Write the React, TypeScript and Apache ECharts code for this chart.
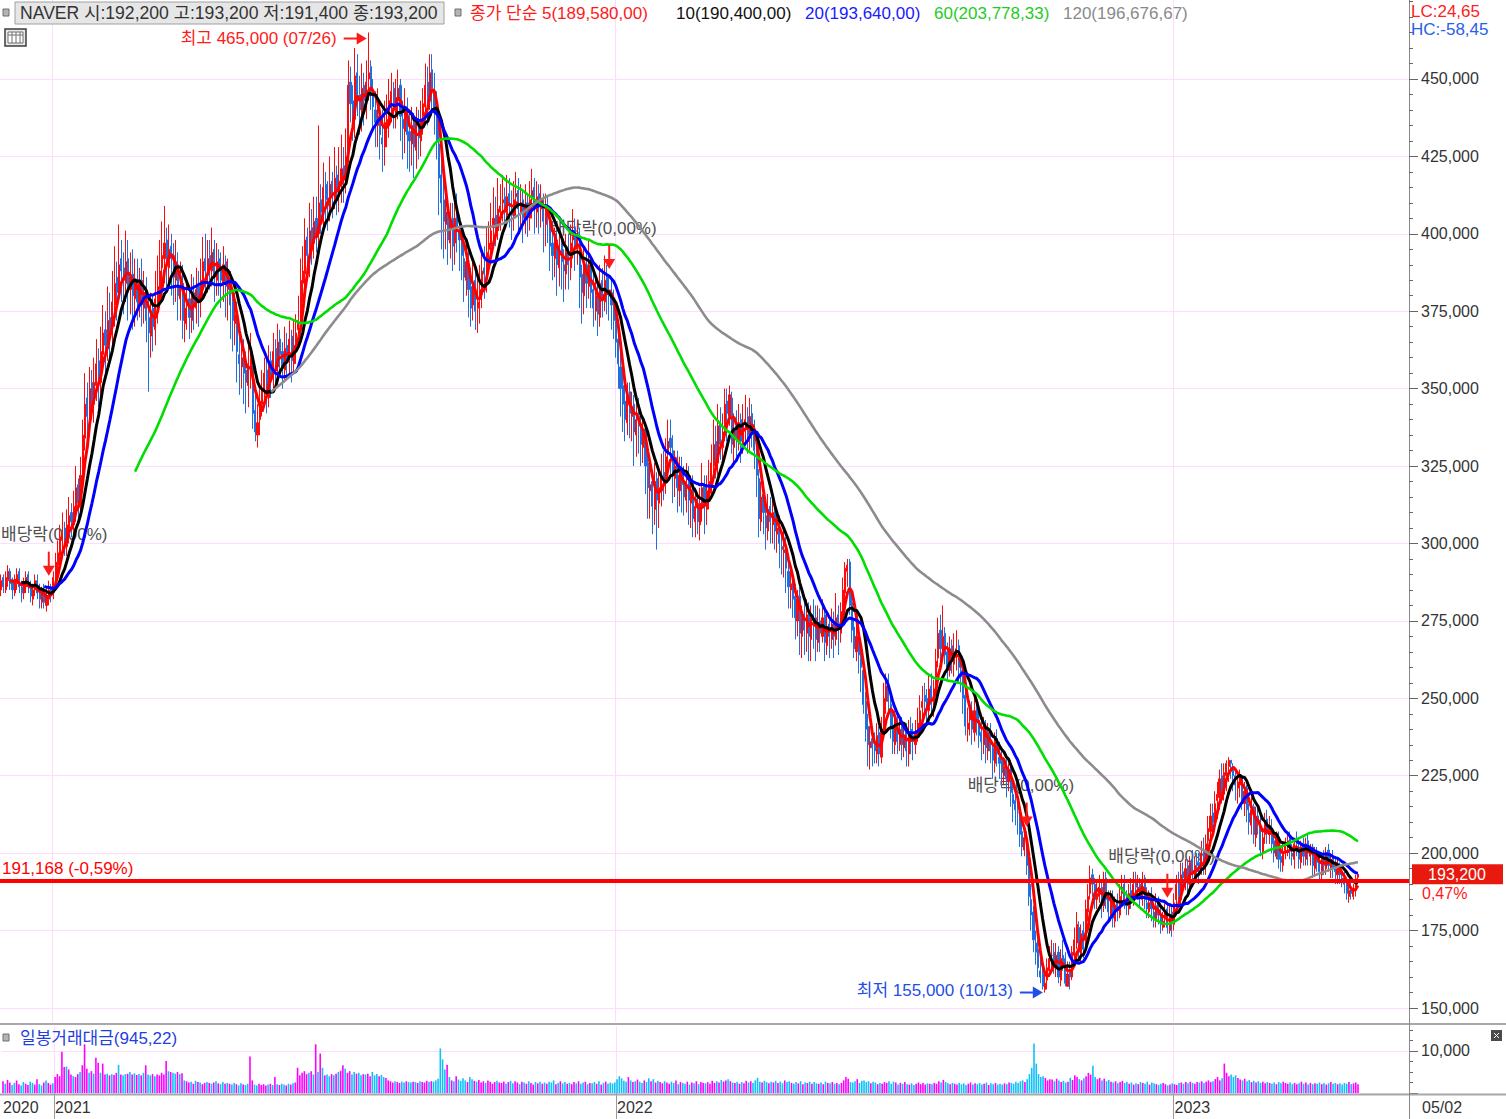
import React, { useEffect, useRef } from "react";
import * as echarts from "echarts";

// ---------- data (prices in thousand won) ----------
const CLOSE = [
288,286,289,291,287,285,288,290,286,284,
287,289,286,283,285,288,284,282,284,281,
283,285,284,289,294,297,302,303,300,306,
309,307,312,318,313,322,335,345,341,350,
346,352,358,353,362,368,364,372,369,378,
384,381,390,388,385,391,383,386,380,384,
378,384,377,381,372,368,375,370,379,383,
388,393,397,390,395,392,386,389,380,383,
372,376,378,373,380,377,382,379,385,391,
388,392,389,394,386,391,388,385,390,383,
384,377,372,374,362,358,360,355,352,358,
360,342,336,339,346,350,355,348,358,354,
362,358,365,361,357,363,360,366,359,364,
368,372,385,388,398,393,401,398,404,399,
410,407,415,411,409,416,412,418,414,417,
421,419,425,448,442,438,451,444,440,447,
443,449,452,445,441,436,438,432,429,436,
437,443,446,440,444,447,438,434,440,432,
430,435,428,436,431,437,442,448,444,452,
447,439,430,418,410,404,407,398,404,396,
405,402,398,393,386,391,382,376,384,375,
378,382,388,387,394,397,401,405,402,408,
409,411,407,412,409,406,411,413,408,410,
405,409,406,411,414,408,412,409,410,404,
407,405,396,393,397,390,396,391,388,394,
390,397,401,396,399,386,381,389,384,390,
381,376,380,374,384,379,385,381,380,377,
372,365,358,350,345,340,348,342,344,336,
340,338,332,336,325,318,319,312,320,314,
318,322,321,328,333,331,322,325,318,322,
319,315,320,314,317,308,312,307,313,318,
312,317,320,326,332,327,338,332,336,345,
342,348,332,337,334,339,333,339,340,335,
341,337,330,322,308,315,310,305,311,307,
310,304,305,300,298,298,292,286,287,282,
276,282,271,276,272,277,270,276,275,269,
274,271,276,268,273,270,274,270,276,272,
278,285,292,293,280,272,266,270,264,260,
248,240,235,236,234,233,238,232,240,250,
254,249,240,236,241,236,240,235,238,233,
239,237,236,239,242,246,249,249,247,253,
248,253,262,271,266,270,264,260,266,262,
265,266,260,257,250,241,242,245,240,246,
242,238,236,240,234,239,233,230,236,232,
229,226,228,224,227,220,216,214,213,206,
202,205,196,186,180,172,168,163,160,157,
158,163,166,167,164,167,160,166,165,158,
161,160,168,172,177,168,174,169,182,186,
192,190,185,187,189,183,191,185,181,184,
179,183,181,186,189,185,183,187,185,190,
189,189,186,191,185,182,184,182,179,183,
180,177,178,181,176,180,178,184,190,186,
193,192,195,190,197,193,196,196,195,200,
197,203,208,212,210,216,219,224,220,226,
229,230,229,225,222,223,224,217,220,214,
210,214,206,212,211,201,205,210,207,209,
203,200,205,198,197,200,203,204,201,199,
203,203,198,202,199,203,200,201,196,199,
197,194,198,196,200,196,198,195,194,195,
193,191,190,187,188,187,188,191.7,193.2
];

const OPEN = [
285,289,285,288,291,288,284,287,291,286,
284,286,290,286,282,285,288,285,281,285,
280,282,286,285,289,293,296,301,305,299,
305,310,306,311,319,312,323,334,347,340,
352,345,351,359,352,361,369,363,373,368,
377,386,380,392,389,384,392,382,387,379,
385,377,385,376,382,373,367,376,369,378,
382,389,392,398,389,396,393,385,390,379,
384,371,377,379,372,381,376,383,378,384,
392,387,393,388,395,385,392,389,384,391,
382,385,378,371,375,361,357,361,356,351,
357,359,343,335,340,345,349,356,347,359,
355,363,357,366,362,356,364,359,367,358,
363,369,371,384,387,399,392,402,397,405,
400,411,406,416,410,408,417,411,419,413,
416,422,418,427,449,443,437,452,445,439,
448,442,450,454,446,440,435,439,431,428,
435,436,442,447,439,443,448,437,433,441,
433,429,436,427,437,430,438,441,449,443,
453,446,440,429,419,411,403,408,397,405,
397,406,401,399,392,385,390,383,377,385,
376,379,381,389,386,395,396,402,406,401,
407,410,412,406,413,408,405,412,414,407,
411,404,410,405,412,415,407,413,408,411,
403,408,404,397,392,398,389,397,390,387,
395,389,398,402,395,399,387,380,390,383,
389,382,375,381,373,385,378,386,380,381,
378,372,366,357,351,346,339,349,341,345,
335,341,337,331,337,326,317,320,311,321,
313,317,323,320,329,334,330,321,326,317,
323,320,314,321,313,318,307,313,306,312,
319,311,316,319,325,333,326,339,331,337,
346,341,347,331,338,333,340,332,339,341,
334,342,336,331,321,307,316,309,304,312,
306,311,303,306,299,297,299,291,285,288,
283,275,283,270,277,271,278,269,277,276,
268,275,270,277,267,274,269,275,269,277,
271,277,284,291,294,281,273,265,271,263,
259,249,241,234,237,235,232,239,231,241,
249,255,248,241,235,242,235,241,234,239,
232,240,238,235,240,241,247,251,250,246,
254,247,254,263,272,265,271,265,259,267,
261,264,267,259,258,251,240,243,246,239,
247,243,239,235,241,233,240,234,229,237,
231,230,225,229,223,228,219,217,213,214,
207,201,204,196,185,181,171,169,162,161,
156,159,162,167,168,163,168,159,167,166,
157,162,160,167,171,176,167,175,170,181,
187,193,190,185,186,189,183,192,186,180,
185,178,184,180,187,190,184,182,188,184,
191,188,190,185,192,184,181,185,181,178,
184,180,176,179,182,175,181,177,185,191,
185,194,191,196,189,198,192,197,197,194,
201,196,204,207,213,209,217,218,225,219,
225,228,230,228,225,221,222,225,216,221,
213,209,215,205,212,210,200,206,211,206,
208,204,199,205,199,196,201,202,205,200,
198,204,202,197,203,198,204,199,202,195,
200,198,193,199,195,201,195,199,196,193,
196,192,192,190,186,189,186,188,192.2
];

const HIGH = [
290,290,291,293,292,289,290,292,292,288,
289,291,291,288,287,290,290,287,286,287,
286,288,287,291,297,301,306,310,307,311,
315,313,317,325,321,328,340,355,352,357,
356,360,366,363,370,377,375,383,381,388,
396,391,403,398,394,401,398,394,395,392,
392,389,392,388,386,380,381,380,388,393,
398,404,409,402,403,400,397,398,394,391,
390,382,384,383,387,386,389,388,392,399,
400,398,398,402,398,397,395,394,396,393,
392,388,382,381,378,367,366,366,362,365,
368,362,348,345,351,356,360,360,364,362,
368,366,371,369,365,370,368,372,369,372,
374,380,392,396,405,402,410,408,412,412,
435,416,423,420,417,425,420,428,422,428,
432,428,434,456,454,448,460,458,451,455,
452,456,465,456,450,446,447,443,440,443,
445,450,452,449,450,453,450,443,447,444,
440,441,439,441,440,443,447,455,454,458,
458,452,446,436,428,419,415,412,410,410,
412,413,406,403,396,398,394,389,391,388,
386,390,395,396,402,404,410,415,412,418,
416,419,415,419,418,414,417,420,418,416,
414,416,413,417,421,418,417,416,416,413,
413,412,408,402,402,401,402,399,395,400,
400,403,408,405,404,402,390,396,394,398,
393,388,386,384,390,389,393,390,387,386,
382,378,369,362,356,352,352,352,349,348,
346,347,342,341,339,330,325,323,326,323,
324,329,330,334,340,340,335,330,330,328,
328,325,326,325,322,322,318,316,318,326,
322,322,327,332,340,338,345,344,342,350,
350,351,349,342,343,345,342,345,348,344,
347,345,340,335,324,320,320,314,316,315,
316,314,311,309,304,304,302,296,292,291,
287,285,286,280,281,282,281,280,282,280,
280,279,282,279,278,276,279,278,284,280,
281,289,294,295,295,284,276,274,273,266,
262,252,245,241,240,239,242,241,244,255,
258,258,251,245,246,245,244,244,242,242,
243,244,242,243,247,251,254,255,253,258,
258,256,266,276,277,280,273,268,270,269,
271,272,269,264,261,253,247,249,249,250,
250,247,243,244,243,242,242,236,239,240,
236,233,231,232,229,230,223,221,218,216,
211,208,207,199,190,183,175,172,166,164,
161,166,170,172,171,171,170,169,172,168,
165,165,170,176,181,178,177,178,185,190,
196,195,192,191,193,191,194,194,188,188,
188,186,187,190,193,193,188,190,192,194,
194,193,192,194,193,189,188,189,184,187,
186,183,181,185,184,183,183,187,193,194,
197,197,198,198,199,201,199,200,200,204,
205,206,212,216,216,220,223,227,229,229,
230,231,230,229,227,226,227,225,223,222,
216,218,216,215,216,212,208,213,214,212,
211,207,207,207,201,203,205,207,207,203,
205,207,205,204,205,205,206,203,203,202,
202,200,200,201,202,203,200,201,199,198,
197,195,194,192,190,191,190,193,193.2
];

const LOW = [
283,284,284,286,285,282,283,285,284,281,
282,284,284,281,280,283,282,279,279,279,
278,280,281,282,286,290,293,297,296,296,
300,302,303,307,308,308,318,330,335,336,
340,339,346,344,348,355,355,359,357,362,
370,372,378,378,374,378,372,374,369,370,
372,373,370,371,365,349,360,362,364,371,
376,381,384,382,383,380,377,378,372,372,
366,365,369,366,368,369,371,370,373,379,
380,381,382,383,378,380,380,376,378,373,
372,366,362,364,352,348,350,345,342,344,
350,337,333,331,335,341,344,342,344,347,
350,352,353,355,350,352,354,355,352,355,
358,364,368,378,382,387,386,390,392,394,
395,400,402,404,401,404,405,408,406,407,
410,410,413,423,436,430,431,438,432,433,
435,437,443,440,433,428,428,424,420,422,
428,431,436,434,434,437,430,424,426,421,
420,422,418,421,424,425,432,437,435,440,
438,432,424,406,395,392,395,390,392,388,
390,394,388,385,378,380,373,370,372,369,
368,371,376,379,381,388,390,396,396,398,
401,404,401,403,402,398,401,405,401,402,
397,400,399,401,405,400,402,400,402,394,
396,397,388,385,386,380,383,382,378,382,
382,385,392,388,390,376,371,374,376,379,
376,370,372,367,370,373,375,374,372,369,
366,360,350,341,336,333,335,334,333,325,
328,329,325,326,316,308,308,303,306,298,
305,312,314,316,323,322,313,315,310,312,
310,309,310,306,305,302,302,303,301,307,
303,306,311,316,322,321,322,327,327,333,
333,338,329,326,328,330,326,329,333,329,
330,331,324,315,302,304,303,298,301,300,
300,298,297,292,290,289,284,279,279,276,
269,270,264,263,264,265,262,262,266,262,
265,265,268,262,264,263,266,263,267,264,
268,275,281,286,277,268,263,262,258,252,
245,236,228,227,228,229,229,228,229,238,
245,245,237,232,232,232,233,230,231,228,
228,232,230,232,236,238,243,244,242,243,
244,244,251,260,262,262,261,256,257,258,
257,259,255,252,245,238,236,238,235,236,
238,234,230,232,229,230,229,224,226,228,
224,221,222,218,220,215,210,209,206,202,
199,199,193,183,175,168,164,160,158,156,
155,156,160,162,161,160,158,157,162,157,
157,156,159,165,169,165,165,166,168,178,
185,186,182,182,184,179,181,182,178,178,
176,176,178,179,184,182,180,180,182,183,
185,185,183,183,182,179,179,178,176,176,
177,174,175,176,174,174,173,175,183,183,
183,188,188,187,187,190,190,192,190,193,
193,193,199,204,206,207,211,214,216,217,
220,223,224,220,217,216,218,214,212,210,
206,206,203,202,206,199,198,203,203,203,
200,197,198,195,194,194,198,199,198,196,
195,199,195,195,196,196,196,196,192,193,
194,191,191,193,193,194,192,192,190,190,
190,189,187,185,184,185,185,186,191.4
];

// daily trading value, in hundreds (x100)
const VOLUME = [
28,22,31,25,19,24,30,21,18,26,
22,19,27,24,20,33,21,18,25,30,
24,20,23,38,45,40,98,62,63,56,
44,40,38,45,50,66,116,58,48,52,
46,84,72,48,70,44,46,42,45,43,
48,67,44,42,45,46,50,44,47,43,
45,42,48,66,44,42,45,40,44,42,
48,44,76,52,50,48,46,50,45,47,
30,28,25,27,22,29,26,25,21,24,
26,24,22,25,28,23,21,26,22,24,
22,20,24,21,18,23,20,19,22,87,
30,20,18,22,19,21,18,20,22,19,
38,21,19,22,20,18,22,20,23,25,
60,42,48,52,45,48,52,44,116,50,
94,60,42,44,40,45,42,46,50,53,
66,58,48,52,44,50,46,48,42,45,
44,46,40,50,42,45,40,43,38,36,
30,28,25,28,26,24,27,25,28,26,
25,27,26,24,28,26,25,29,27,28,
27,30,34,106,80,56,67,38,30,28,
40,32,29,35,30,26,38,33,29,27,
31,25,28,24,30,27,22,26,29,25,
24,27,22,26,29,23,28,25,21,27,
25,22,28,24,20,26,23,27,22,25,
22,27,25,30,21,24,28,23,26,22,
24,21,26,23,28,22,25,27,21,24,
23,26,22,28,20,24,27,22,25,23,
25,33,40,35,29,27,38,30,26,28,
32,27,24,30,26,35,28,33,25,29,
26,23,28,25,22,27,24,30,21,26,
24,22,27,20,25,23,28,21,26,24,
23,26,22,29,24,28,25,31,27,30,
33,28,25,24,27,22,26,23,29,25,
28,24,30,36,27,25,29,26,23,27,
25,29,24,27,23,30,26,28,24,22,
26,23,28,21,25,24,27,22,26,23,
22,25,21,27,24,23,26,22,24,21,
24,30,38,34,26,25,28,33,24,29,
30,26,28,23,27,25,21,24,22,26,
24,28,22,27,25,20,24,22,26,21,
20,23,19,22,25,21,24,20,23,22,
21,24,22,28,25,31,26,23,21,24,
22,20,24,21,23,19,22,25,20,23,
21,24,20,22,25,19,23,21,24,20,
22,20,23,21,25,24,22,27,24,28,
30,26,33,45,60,118,70,45,38,40,
36,30,33,32,28,34,30,26,29,25,
27,36,31,42,38,33,30,35,40,48,
44,65,38,33,36,30,34,28,31,27,
25,28,23,26,29,24,27,22,25,20,
23,21,26,24,22,27,20,25,23,21,
19,22,24,21,18,20,23,21,19,24,
25,22,26,23,27,24,22,26,25,28,
24,27,30,26,28,33,38,30,35,70,
48,40,44,38,42,36,32,30,34,28,
31,26,29,25,28,24,27,23,26,24,
22,25,21,26,23,27,24,22,25,21,
24,21,23,27,22,25,20,24,21,23,
22,25,21,24,20,23,26,22,24,21,
23,20,24,22,26,21,23,25,21
];

const PAD_DAYS = 22;
const YEAR_MARKS = [
  { index: 0, label: "2020" },
  { index: 23, label: "2021" },
  { index: 271, label: "2022" },
  { index: 517, label: "2023" },
];
const YEAR_LINES = [23, 271, 517];
const LAST_DATE = "05/02";
const PRICE_TICKS = [150000, 175000, 200000, 225000, 250000, 275000, 300000, 325000, 350000, 375000, 400000, 425000, 450000];
const VOL_LABEL_TICKS = [10000];
const Y_MIN = 145480;
const Y_MAX = 475500;
const VOL_MAX = 15950;

const MA_PERIODS = [5, 10, 20, 60, 120];
const MA_COLORS = ["#ff0000", "#000000", "#0000ff", "#00dd00", "#8c8c8c"];

const HEADER_TEXT = "NAVER 시:192,200 고:193,200 저:191,400 종:193,200";
const LEGEND_TEXTS = [
  "종가 단순 5(189,580,00)",
  "10(190,400,00)",
  "20(193,640,00)",
  "60(203,778,33)",
  "120(196,676,67)",
];
const LEGEND_COLORS = ["#ff1a1a", "#111111", "#1a1aff", "#1fcc1f", "#8a8a8a"];
const LEGEND_X = [470, 676, 805, 934, 1063];

const REF_LINE = 191168;
const REF_LABEL = "191,168 (-0,59%)";
const LAST_PRICE = 193200;
const LAST_PRICE_TEXT = "193,200";
const LAST_CHANGE = "0,47%";
const HIGH_MARK = { index: 162, value: 465000, label: "최고 465,000 (07/26)" };
const LOW_MARK = { index: 460, value: 155000, label: "최저 155,000 (10/13)" };
const DIVIDEND_IDX = [21, 268, 452, 514];
const DIVIDEND_TEXT = "배당락(0,00%)";
const VOLUME_TITLE = "일봉거래대금(945,22)";

const FONT = "'Liberation Sans', 'Noto Sans CJK KR', sans-serif";
const PINK = "#fddcfd";
const UP = "#ff0a0a";
const DOWN = "#1f6fe0";

const fmt = (v: number) =>
  Math.round(v).toString().replace(/\B(?=(\d{3})+(?!\d))/g, ",");

function sma(src: number[], n: number) {
  return src.map((_, i) => {
    if (i < n - 1) return null;
    let s = 0;
    for (let k = i - n + 1; k <= i; k++) s += src[k];
    return (s / n) * 1000;
  });
}

export default function App() {
  const ref = useRef<HTMLDivElement>(null);

  useEffect(() => {
    const el = ref.current;
    if (!el) return;
    const chart = echarts.init(el, null, { renderer: "svg" });
    const N = Math.min(CLOSE.length, OPEN.length, HIGH.length, LOW.length);
    const cats = Array.from({ length: N + PAD_DAYS }, (_, i) => String(i));
    const closes = CLOSE.slice(0, N);
    const candles = closes.map((c, i) => {
      const o = OPEN[i];
      return [o * 1000, c * 1000, Math.min(LOW[i], o, c) * 1000, Math.max(HIGH[i], o, c) * 1000];
    });
    const yearSet = new Set(YEAR_LINES);
    const labelMap = new Map(YEAR_MARKS.map((m) => [m.index, m.label]));
    const minorTicks: number[] = [];
    for (let v = 150000; v <= 475000; v += 5000) minorTicks.push(v);
    const volMinor: number[] = [];
    for (let v = 0; v <= 15000; v += 2500) volMinor.push(v);

    const volData = VOLUME.slice(0, N).map((v, i) => ({
      value: v * 100,
      itemStyle: { color: i === 0 || closes[i] >= closes[i - 1] ? "#ff00ff" : "#10c0f8" },
    }));

    const maSeries = MA_PERIODS.map((p, k) => ({
      type: "line",
      name: "MA" + p,
      xAxisIndex: 0,
      yAxisIndex: 0,
      data: sma(closes, p),
      showSymbol: false,
      symbol: "none",
      silent: true,
      z: 3,
      lineStyle: { color: MA_COLORS[k], width: k < 3 ? 3 : 2.6 },
      ...(k === 0
        ? {
            markLine: {
              silent: true,
              symbol: ["none", "none"],
              data: [{ yAxis: REF_LINE }],
              lineStyle: { color: "#ff0000", width: 4, type: "solid" },
              label: {
                show: true,
                position: "insideStartTop",
                formatter: REF_LABEL,
                color: "#ff0000",
                fontSize: 17,
                fontFamily: FONT,
                distance: [2, 4],
              },
            },
          }
        : {}),
    }));

    const option: any = {
      animation: false,
      backgroundColor: "#ffffff",
      textStyle: { fontFamily: FONT },
      grid: [
        { left: 0, top: 0, width: 1409, height: 1022 },
        { left: 0, top: 1026, width: 1409, height: 67 },
      ],
      xAxis: [
        {
          type: "category",
          gridIndex: 0,
          data: cats,
          boundaryGap: true,
          axisLine: { show: false },
          axisTick: { show: false },
          axisLabel: { show: false },
          splitLine: { show: true, interval: (i: number) => yearSet.has(i), lineStyle: { color: PINK, width: 1 } },
        },
        {
          type: "category",
          gridIndex: 1,
          data: cats,
          boundaryGap: true,
          axisLine: { show: false },
          axisTick: { show: true, interval: (i: number) => yearSet.has(i), length: 26, lineStyle: { color: "#999999" } },
          axisLabel: {
            show: true,
            interval: (i: number) => labelMap.has(i),
            formatter: (_v: string, i: number) => labelMap.get(i) ?? "",
            align: "left",
            margin: 6,
            fontSize: 16,
            color: "#333333",
            fontFamily: FONT,
          },
          splitLine: { show: true, interval: (i: number) => yearSet.has(i), lineStyle: { color: PINK, width: 1 } },
        },
      ],
      yAxis: [
        {
          type: "value",
          gridIndex: 0,
          position: "right",
          min: Y_MIN,
          max: Y_MAX,
          axisLine: { show: true, lineStyle: { color: "#8a8a8a" } },
          axisTick: { show: true, customValues: PRICE_TICKS, length: 9, lineStyle: { color: "#666666" } },
          axisLabel: { show: true, customValues: PRICE_TICKS, formatter: (v: number) => fmt(v), margin: 12, fontSize: 16, color: "#333333", fontFamily: FONT },
          splitLine: { show: true, lineStyle: { color: PINK, width: 1 } },
        },
        {
          type: "value",
          gridIndex: 0,
          position: "right",
          min: Y_MIN,
          max: Y_MAX,
          axisLine: { show: false },
          axisTick: { show: true, customValues: minorTicks, length: 4, lineStyle: { color: "#666666" } },
          axisLabel: { show: false },
          splitLine: { show: false },
        },
        {
          type: "value",
          gridIndex: 1,
          position: "right",
          min: 0,
          max: VOL_MAX,
          axisLine: { show: true, lineStyle: { color: "#8a8a8a" } },
          axisTick: { show: true, customValues: [0, 10000], length: 9, lineStyle: { color: "#666666" } },
          axisLabel: { show: true, customValues: VOL_LABEL_TICKS, formatter: (v: number) => fmt(v), margin: 12, fontSize: 16, color: "#333333", fontFamily: FONT },
          splitLine: { show: true, lineStyle: { color: PINK, width: 1 } },
        },
        {
          type: "value",
          gridIndex: 1,
          position: "right",
          min: 0,
          max: VOL_MAX,
          axisLine: { show: false },
          axisTick: { show: true, customValues: volMinor, length: 4, lineStyle: { color: "#666666" } },
          axisLabel: { show: false },
          splitLine: { show: false },
        },
      ],
      series: [
        {
          type: "candlestick",
          xAxisIndex: 0,
          yAxisIndex: 0,
          data: candles,
          barWidth: 1.6,
          silent: true,
          z: 2,
          itemStyle: { color: UP, color0: DOWN, borderColor: UP, borderColor0: DOWN, borderWidth: 1 },
        },
        ...maSeries,
        {
          type: "bar",
          xAxisIndex: 1,
          yAxisIndex: 2,
          data: volData,
          barWidth: 1.6,
          silent: true,
        },
      ],
    };
    chart.setOption(option);

    const p = (i: number, v: number) =>
      chart.convertToPixel({ xAxisIndex: 0, yAxisIndex: 0 }, [i, v]) as number[];
    const txt = (x: number, y: number, text: string, fill: string, extra: any = {}, z = 50) => ({
      type: "text",
      x,
      y,
      z,
      silent: true,
      style: { text, fill, fontSize: 17, fontFamily: FONT, verticalAlign: "middle", align: "left", ...extra },
    });

    const g: any[] = [];
    // separators / frame
    g.push({ type: "rect", z: 40, shape: { x: 0, y: 1023, width: 1506, height: 2 }, style: { fill: "#a8a8a8" } });
    g.push({ type: "rect", z: 40, shape: { x: 0, y: 1093.5, width: 1506, height: 2 }, style: { fill: "#a8a8a8" } });
    g.push({ type: "line", z: 40, shape: { x1: 1409.5, y1: 1020, x2: 1409.5, y2: 1119 }, style: { stroke: "#8a8a8a", lineWidth: 1 } });

    // header
    g.push({ type: "rect", z: 60, shape: { x: 3, y: 9, width: 6, height: 7 }, style: { fill: "#b4b4b4", stroke: "#6e6e6e", lineWidth: 1 } });
    g.push({ type: "rect", z: 60, shape: { x: 15, y: 2, width: 429, height: 22 }, style: { fill: "#e6e6e6", stroke: "#a0a0a0", lineWidth: 1 } });
    g.push(txt(20, 13, HEADER_TEXT, "#333333", { fontSize: 17.6 }, 61));
    g.push({ type: "rect", z: 60, shape: { x: 455, y: 9, width: 6, height: 7 }, style: { fill: "#b4b4b4", stroke: "#6e6e6e", lineWidth: 1 } });
    LEGEND_TEXTS.forEach((t, k) => g.push(txt(LEGEND_X[k], 13, t, LEGEND_COLORS[k], {}, 61)));
    g.push(txt(1411, 11, "LC:24,65", "#ff2020", {}, 61));
    g.push(txt(1411, 29, "HC:-58,45", "#2a5ee8", {}, 61));
    // grid icon
    g.push({ type: "rect", z: 60, shape: { x: 5, y: 29, width: 21, height: 17 }, style: { fill: "#e8e8e8", stroke: "#3c3c3c", lineWidth: 1.5 } });
    g.push({ type: "rect", z: 61, shape: { x: 8, y: 32, width: 15, height: 11 }, style: { fill: "#ffffff", stroke: "#707070", lineWidth: 1 } });
    [12, 16, 20].forEach((x) => g.push({ type: "line", z: 62, shape: { x1: x, y1: 32, x2: x, y2: 43 }, style: { stroke: "#707070", lineWidth: 1 } }));
    g.push({ type: "line", z: 62, shape: { x1: 8, y1: 35, x2: 23, y2: 35 }, style: { stroke: "#707070", lineWidth: 1 } });

    // high / low marks
    const hp = p(HIGH_MARK.index, HIGH_MARK.value);
    const hx = hp[0] - 2, hy = hp[1] + 6;
    g.push(txt(hx - 30, hy, HIGH_MARK.label, "#ff1a1a", { align: "right" }));
    g.push({ type: "line", z: 50, shape: { x1: hx - 23, y1: hy, x2: hx - 8, y2: hy }, style: { stroke: "#ff1a1a", lineWidth: 2 } });
    g.push({ type: "polygon", z: 50, shape: { points: [[hx, hy], [hx - 10, hy - 6], [hx - 10, hy + 6]] }, style: { fill: "#ff1a1a" } });
    const lp = p(LOW_MARK.index, LOW_MARK.value);
    const lx = lp[0] - 2, ly = lp[1];
    g.push(txt(lx - 30, ly - 2, LOW_MARK.label, "#1f4fe8", { align: "right" }));
    g.push({ type: "line", z: 50, shape: { x1: lx - 23, y1: ly, x2: lx - 8, y2: ly }, style: { stroke: "#1f4fe8", lineWidth: 2 } });
    g.push({ type: "polygon", z: 50, shape: { points: [[lx, ly], [lx - 10, ly - 6], [lx - 10, ly + 6]] }, style: { fill: "#1f4fe8" } });

    // dividend marks
    DIVIDEND_IDX.forEach((idx) => {
      const dp = p(idx, HIGH[idx] * 1000);
      const x = dp[0], tip = dp[1] - 5;
      g.push(txt(Math.max(1, x - 59), tip - 41, DIVIDEND_TEXT, "#505050", {}, 1));
      g.push({ type: "line", z: 50, shape: { x1: x, y1: tip - 24, x2: x, y2: tip - 9 }, style: { stroke: "#ff1a1a", lineWidth: 2 } });
      g.push({ type: "polygon", z: 50, shape: { points: [[x, tip], [x - 6, tip - 10], [x + 6, tip - 10]] }, style: { fill: "#ff1a1a" } });
    });

    // last price tag
    const ty = p(0, LAST_PRICE)[1];
    g.push({ type: "rect", z: 60, shape: { x: 1412, y: ty - 10, width: 91, height: 20 }, style: { fill: "#e81a10" } });
    g.push(txt(1457, ty, LAST_PRICE_TEXT, "#ffffff", { align: "center", fontSize: 16 }, 61));
    g.push(txt(1422, ty + 19, LAST_CHANGE, "#ff1a1a", { fontSize: 16 }, 61));

    // volume pane
    g.push({ type: "rect", z: 60, shape: { x: 3, y: 1034, width: 6, height: 7 }, style: { fill: "#b4b4b4", stroke: "#6e6e6e", lineWidth: 1 } });
    g.push(txt(20, 1038, VOLUME_TITLE, "#1f3fe0", {}, 61));
    g.push({ type: "rect", z: 60, shape: { x: 1491, y: 1030, width: 11, height: 11 }, style: { fill: "#4a4a4a" } });
    g.push({ type: "line", z: 61, shape: { x1: 1494, y1: 1033, x2: 1499, y2: 1038 }, style: { stroke: "#ffffff", lineWidth: 1 } });
    g.push({ type: "line", z: 61, shape: { x1: 1499, y1: 1033, x2: 1494, y2: 1038 }, style: { stroke: "#ffffff", lineWidth: 1 } });

    // last date label
    g.push(txt(1422, 1107, LAST_DATE, "#333333", { fontSize: 16 }, 61));

    chart.setOption({ graphic: g });

    return () => chart.dispose();
  }, []);

  return (
    <div
      ref={ref}
      style={{ position: "absolute", left: 0, top: 0, width: 1506, height: 1119, background: "#ffffff" }}
    />
  );
}
